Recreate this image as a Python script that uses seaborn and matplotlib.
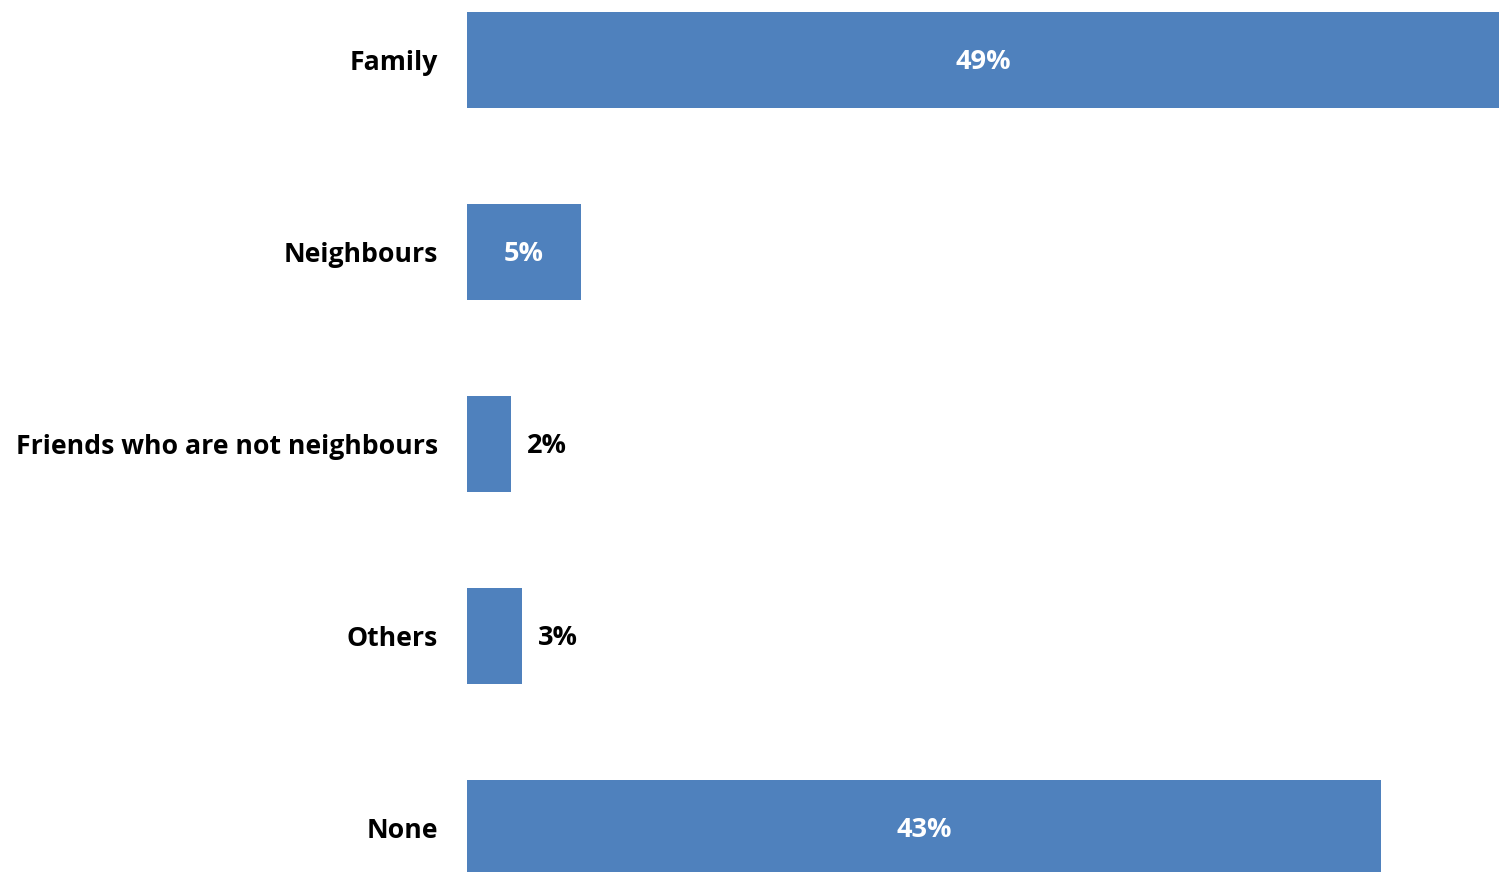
import matplotlib
matplotlib.use("Agg")
from matplotlib import pyplot as plt
import seaborn as sns
import pandas as pd

categories = ["Family", "Neighbours", "Friends who are not neighbours", "Others", "None"]
shares = [49.0, 5.4, 2.1, 2.6, 43.4]
inside = [True, True, False, False, True]

df = pd.DataFrame({"Category": categories, "Share": shares})

sns.set_style("white")
plt.rcParams['font.family'] = ['Open Sans', 'DejaVu Sans']

fig = plt.figure(figsize=(14.99, 8.72), dpi=100)
ax = fig.add_axes([467 / 1499, 0, 1 - 467 / 1499, 1])

sns.barplot(data=df, y="Category", x="Share", orient="h", color="#4F81BD",
            saturation=1, width=0.5, linewidth=0, ax=ax)

for i, (v, ins) in enumerate(zip(shares, inside)):
    if ins:
        ax.text(v / 2, i + 0.01, f"{v:.0f}%", ha="center", va="center", color="white",
                fontsize=19.5, fontweight="bold")
    else:
        ax.text(v + 0.75, i + 0.01, f"{v:.0f}%", ha="left", va="center", color="black",
                fontsize=19.5, fontweight="bold")

ax.set_xlim(0, shares[0])
ax.set_ylim(4.227, -0.31)
ax.set_xlabel("")
ax.set_ylabel("")
ax.set_xticks([])
ax.tick_params(axis="y", length=0, pad=21, labelsize=19.2, labelcolor="black")
for lab in ax.get_yticklabels():
    lab.set_fontweight("bold")
sns.despine(ax=ax, left=True, bottom=True, top=True, right=True)

plt.savefig("out.png", dpi=100)
